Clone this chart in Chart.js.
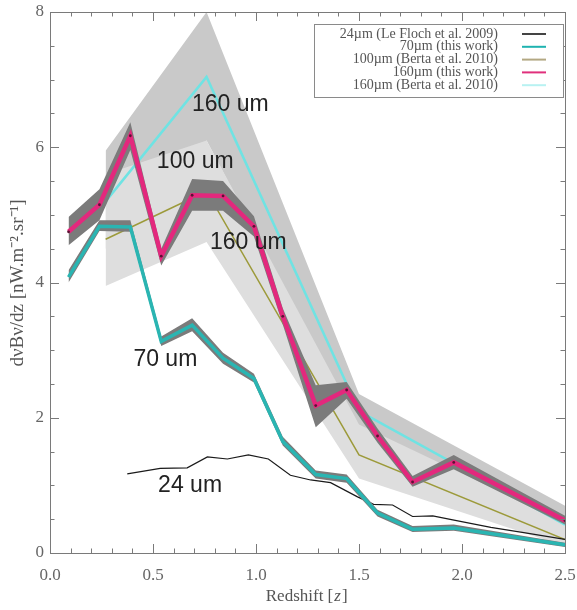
<!DOCTYPE html>
<html>
<head>
<meta charset="utf-8">
<script src="https://cdn.jsdelivr.net/npm/chart.js@4.4.1/dist/chart.umd.min.js"></script>
<style>
  html, body { margin: 0; padding: 0; background: #fff; }
  #wrap { width: 577px; height: 610px; }
</style>
</head>
<body>
<div id="wrap"><canvas id="c" width="577" height="610"></canvas></div>
<script>
// redshift bins of this work
var zThis = [0.09, 0.24, 0.39, 0.54, 0.69, 0.84, 0.99, 1.13, 1.29, 1.44, 1.59, 1.76, 1.96, 2.5];

// 160um (this work) and its error envelope
var v160 = [4.75, 5.15, 6.17, 4.39, 5.29, 5.28, 4.83, 3.5, 2.18, 2.41, 1.73, 1.05, 1.34, 0.48];
var hi160 = [4.97, 5.38, 6.37, 4.5, 5.53, 5.5, 4.98, 3.62, 2.48, 2.53, 1.84, 1.14, 1.45, 0.55];
var lo160 = [4.55, 4.92, 5.96, 4.25, 5.06, 5.06, 4.68, 3.38, 1.86, 2.28, 1.63, 0.98, 1.24, 0.42];

// 70um (this work) and its error envelope
var v70 = [4.08, 4.83, 4.82, 3.13, 3.37, 2.88, 2.58, 1.65, 1.16, 1.1, 0.59, 0.35, 0.37, 0.12];
var hi70 = [4.18, 4.92, 4.92, 3.2, 3.47, 2.96, 2.65, 1.72, 1.22, 1.16, 0.64, 0.4, 0.42, 0.15];
var lo70 = [4.0, 4.76, 4.75, 3.06, 3.28, 2.8, 2.52, 1.59, 1.1, 1.04, 0.54, 0.31, 0.33, 0.09];

// 24um (Le Floch et al. 2009)
var z24 = [0.375, 0.535, 0.666, 0.764, 0.861, 0.963, 1.06, 1.167, 1.265, 1.362, 1.493, 1.571, 1.663, 1.76, 1.858, 1.955, 2.14, 2.3, 2.5];
var v24 = [1.17, 1.25, 1.26, 1.42, 1.39, 1.45, 1.39, 1.15, 1.08, 1.04, 0.83, 0.72, 0.71, 0.54, 0.55, 0.49, 0.38, 0.3, 0.2];

// Berta et al. 2010 (100um and 160um) with their ranges
var zBerta = [0.27, 0.76, 1.5, 2.5];
var vB100 = [4.64, 5.35, 1.45, 0.2];
var hiB100 = [5.6, 6.1, 1.9, 0.45];
var loB100 = [3.95, 4.6, 1.1, 0.1];
var vB160 = [5.2, 7.04, 2.1, 0.42];
var hiB160 = [5.95, 8.0, 2.35, 0.7];
var loB160 = [4.5, 6.1, 1.8, 0.32];

// in-plot labels [text, z, value]
var noteText = ['160 um', '100 um', '160 um', '70 um', '24 um'];
var noteZ = [0.875, 0.705, 0.963, 0.56, 0.68];
var noteV = [6.63, 5.78, 4.59, 2.86, 1.0];

var legendText = ['24\u00b5m (Le Floch et al. 2009)', '70\u00b5m (this work)', '100\u00b5m (Berta et al. 2010)',
  '160\u00b5m (this work)', '160\u00b5m (Berta et al. 2010)'];
var legendColor = ['#444444', '#1fb3b0', '#b3a883', '#e0307c', '#b8f2f2'];

function pts(xs, ys) {
  return xs.map(function (x, i) { return { x: x, y: ys[i] }; });
}

function band(lbl, xs, ys, fill, order, fillTarget) {
  return {
    label: lbl, data: pts(xs, ys), borderWidth: 0, pointRadius: 0,
    backgroundColor: fill, fill: fillTarget, order: order, tension: 0
  };
}

function line(lbl, xs, ys, color, width, order, dots) {
  return {
    label: lbl, data: pts(xs, ys), borderColor: color, borderWidth: width,
    pointRadius: dots ? 1.4 : 0, pointBackgroundColor: '#5a1233', pointBorderWidth: 0,
    fill: false, order: order, tension: 0
  };
}

var serif = '"Liberation Serif", "Times New Roman", serif';

var frameTicks = {
  id: 'frameTicks',
  afterDatasetsDraw: function (chart) {
    var ctx = chart.ctx, a = chart.chartArea;
    var xs = chart.scales.x, ys = chart.scales.y;
    ctx.save();
    ctx.strokeStyle = '#7a7a7a';
    ctx.lineWidth = 1;
    ctx.strokeRect(a.left + 0.5, a.top + 0.5, a.right - a.left, a.bottom - a.top);
    ctx.beginPath();
    var i, p, len;
    for (i = 0; i <= 25; i++) {
      p = Math.round(xs.getPixelForValue(i * 0.1)) + 0.5;
      len = i % 5 === 0 ? 9 : 4.5;
      ctx.moveTo(p, a.bottom); ctx.lineTo(p, a.bottom - len);
      ctx.moveTo(p, a.top); ctx.lineTo(p, a.top + len);
    }
    for (i = 0; i <= 16; i++) {
      p = Math.round(ys.getPixelForValue(i * 0.5)) + 0.5;
      len = i % 4 === 0 ? 9 : 4.5;
      ctx.moveTo(a.left, p); ctx.lineTo(a.left + len, p);
      ctx.moveTo(a.right, p); ctx.lineTo(a.right - len, p);
    }
    ctx.stroke();

    // in-plot notes
    ctx.fillStyle = '#222';
    ctx.font = '23px "Liberation Sans", Arial, sans-serif';
    ctx.textAlign = 'center';
    ctx.textBaseline = 'middle';
    for (i = 0; i < noteText.length; i++) {
      ctx.fillText(noteText[i], xs.getPixelForValue(noteZ[i]), ys.getPixelForValue(noteV[i]));
    }

    // legend box
    var bw = 249, bh = 73;
    var bx = a.right - bw - 2, by = a.top + 12;
    ctx.fillStyle = '#fff';
    ctx.fillRect(bx, by, bw, bh);
    ctx.strokeStyle = '#8a8a8a';
    ctx.strokeRect(bx + 0.5, by + 0.5, bw, bh);
    ctx.font = '14px ' + serif;
    ctx.textAlign = 'right';
    for (i = 0; i < legendText.length; i++) {
      var ty = by + 10 + i * 12.8;
      ctx.fillStyle = '#555';
      ctx.fillText(legendText[i], bx + 184, ty);
      ctx.strokeStyle = legendColor[i];
      ctx.lineWidth = 2;
      ctx.beginPath();
      ctx.moveTo(bx + 208, ty); ctx.lineTo(bx + 232, ty);
      ctx.stroke();
    }

    // axis titles
    ctx.fillStyle = '#555';
    ctx.textAlign = 'center';
    ctx.font = '17px ' + serif;
    var tx = (a.left + a.right) / 2;
    ctx.fillText('Redshift [', tx - 8, 597);
    var w1 = ctx.measureText('Redshift [').width;
    ctx.font = 'italic 17px ' + serif;
    ctx.textAlign = 'left';
    ctx.fillText('z', tx - 8 + w1 / 2 + 1, 597);
    var w2 = ctx.measureText('z').width;
    ctx.font = '17px ' + serif;
    ctx.fillText(']', tx - 8 + w1 / 2 + w2 + 2, 597);

    ctx.translate(18, 283);
    ctx.rotate(-Math.PI / 2);
    ctx.textAlign = 'center';
    ctx.font = '19px ' + serif;
    ctx.fillText('d\u03bdB\u03bd/dz [nW.m\u207b\u00b2.sr\u207b\u00b9]', 0, 0);
    ctx.restore();
  }
};

new Chart(document.getElementById('c'), {
  type: 'line',
  data: {
    datasets: [
      band('B160 hi', zBerta, hiB160, '#c9c9c9', 20, '+1'),
      band('B160 lo', zBerta, loB160, 'transparent', 20, false),
      band('B100 hi', zBerta, hiB100, '#dedede', 18, '+1'),
      band('B100 lo', zBerta, loB100, 'transparent', 18, false),
      line('160um Berta', zBerta, vB160, '#6fe3e3', 2.5, 16, false),
      line('100um Berta', zBerta, vB100, '#9c9a3a', 1.5, 15, false),
      line('24um', z24, v24, '#1a1a1a', 1.2, 14, false),
      band('70 hi', zThis, hi70, '#7b7b7b', 12, '+1'),
      band('70 lo', zThis, lo70, 'transparent', 12, false),
      line('70um', zThis, v70, '#2ab5b2', 3.5, 10, false),
      band('160 hi', zThis, hi160, '#7b7b7b', 8, '+1'),
      band('160 lo', zThis, lo160, 'transparent', 8, false),
      line('160um', zThis, v160, '#e3287d', 4.5, 6, true)
    ]
  },
  options: {
    responsive: false,
    animation: false,
    layout: { padding: { top: 12, right: 12, left: 0, bottom: 0 } },
    plugins: { legend: { display: false }, tooltip: { enabled: false } },
    scales: {
      x: {
        type: 'linear', min: 0, max: 2.5,
        grid: { display: false, drawTicks: false },
        border: { display: false },
        ticks: {
          stepSize: 0.5, padding: 12, color: '#666',
          font: { family: serif, size: 17 },
          callback: function (v) { return v.toFixed(1); }
        },
        afterFit: function (s) { s.height = 57; s.paddingLeft = 0; s.paddingRight = 0; }
      },
      y: {
        min: 0, max: 8,
        grid: { display: false, drawTicks: false },
        border: { display: false },
        ticks: {
          stepSize: 2, padding: 6, color: '#666',
          font: { family: serif, size: 17 }
        },
        afterFit: function (s) { s.width = 50; s.paddingTop = 0; s.paddingBottom = 0; }
      }
    }
  },
  plugins: [frameTicks]
});
</script>
</body>
</html>
